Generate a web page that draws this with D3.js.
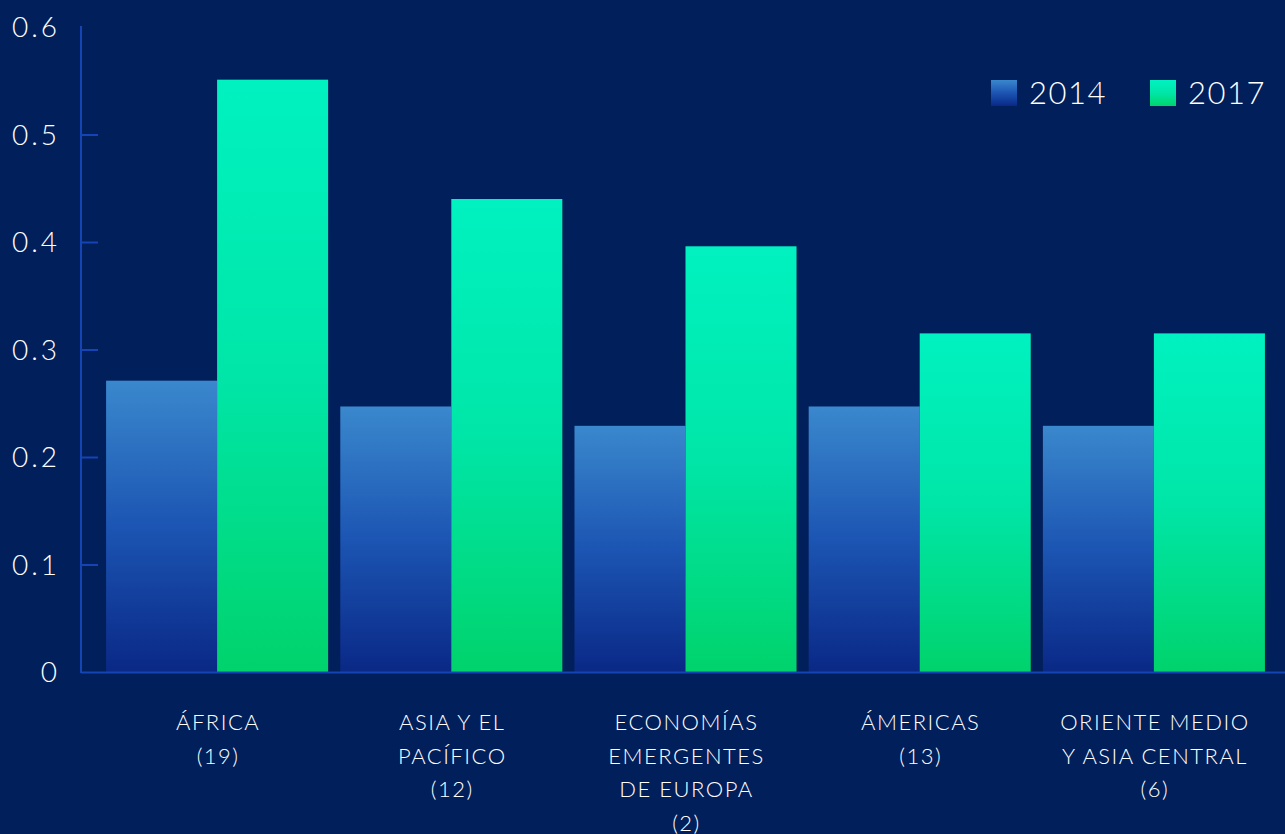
<!DOCTYPE html>
<html>
<head>
<meta charset="utf-8">
<script src="https://cdn.jsdelivr.net/npm/d3@7"></script>
<style>
  html, body { margin: 0; padding: 0; background: #011f5b; }
  svg { display: block; font-family: "Lato", "Open Sans", sans-serif; }
</style>
</head>
<body>
<svg id="chart" width="1285" height="834"></svg>
<script>
const regions = [
  ["ÁFRICA", "(19)"],
  ["ASIA Y EL", "PACÍFICO", "(12)"],
  ["ECONOMÍAS", "EMERGENTES", "DE EUROPA", "(2)"],
  ["ÁMERICAS", "(13)"],
  ["ORIENTE MEDIO", "Y ASIA CENTRAL", "(6)"]
];
const years = ["2014", "2017"];
const values2014 = [0.271, 0.247, 0.229, 0.247, 0.229];
const values2017 = [0.551, 0.44, 0.396, 0.315, 0.315];
const yTicks = [0, 0.1, 0.2, 0.3, 0.4, 0.5, 0.6];

const svg = d3.select("#chart");
const width = 1285;
const axisColor = "#1544b5";

const gradients = {
  "2014": ["#3a88cd", "#1c55b3", "#0a2886"],
  "2017": ["#00f2c0", "#00e6a8", "#00d36c"]
};

const defs = svg.append("defs");
years.forEach((yr) => {
  const g = defs.append("linearGradient")
    .attr("id", "grad" + yr)
    .attr("x1", 0).attr("y1", 0).attr("x2", 0).attr("y2", 1);
  gradients[yr].forEach((c, i, arr) => {
    g.append("stop")
      .attr("offset", (i * 100) / (arr.length - 1) + "%")
      .attr("stop-color", c);
  });
});

const y = d3.scaleLinear().domain([0, 0.6]).range([672, 27]);
const x0 = d3.scaleBand()
  .domain(d3.range(regions.length))
  .range([100, 1271])
  .paddingInner(0.052)
  .paddingOuter(0.026);
const x1 = d3.scaleBand().domain(years).range([0, x0.bandwidth()]);

// y axis
const yAxis = svg.append("g").attr("transform", "translate(81,0)")
  .call(d3.axisRight(y).tickValues(yTicks.slice(1, 6)).tickSize(17).tickFormat(""));
yAxis.select(".domain").remove();
yAxis.selectAll("line").attr("stroke", axisColor).attr("stroke-width", 2);
svg.append("line")
  .attr("x1", 81).attr("x2", 81).attr("y1", 26).attr("y2", 673)
  .attr("stroke", axisColor).attr("stroke-width", 2);

// letter-spacing adds trailing space, so anchor a bit further right
svg.append("g").selectAll("text")
  .data(yTicks)
  .join("text")
  .attr("x", 60)
  .attr("y", (d) => y(d) + 10)
  .attr("text-anchor", "end")
  .attr("fill", "#ffffff")
  .attr("font-size", 28)
  .attr("font-weight", 300)
  .attr("letter-spacing", 3)
  .text((d) => d);

// bars
const groups = svg.append("g").selectAll("g")
  .data(regions.map((r, i) => ({ i, vals: [values2014[i], values2017[i]] })))
  .join("g")
  .attr("transform", (d) => `translate(${x0(d.i)},0)`);

groups.selectAll("rect")
  .data((d) => d.vals.map((v, k) => ({ year: years[k], v })))
  .join("rect")
  .attr("x", (d) => x1(d.year))
  .attr("y", (d) => y(d.v))
  .attr("width", x1.bandwidth())
  .attr("height", (d) => y(0) - y(d.v))
  .attr("fill", (d) => `url(#grad${d.year})`);

// x axis line
svg.append("line")
  .attr("x1", 81).attr("x2", width).attr("y1", 672.5).attr("y2", 672.5)
  .attr("stroke", axisColor).attr("stroke-width", 2);

// x labels
svg.append("g").selectAll("text")
  .data(regions)
  .join("text")
  .attr("text-anchor", "middle")
  .attr("fill", "#ffffff")
  .attr("font-size", 22)
  .attr("font-weight", 300)
  .attr("letter-spacing", 1.5)
  .attr("transform", (d, i) => `translate(${x0(i) + x0.bandwidth() / 2 + 1},730)`)
  .selectAll("tspan")
  .data((d) => d)
  .join("tspan")
  .attr("x", 0)
  .attr("y", (d, k) => k * 33.5)
  .text((d) => d);

// legend
const legend = svg.append("g").selectAll("g")
  .data([{ yr: "2014", x: 991 }, { yr: "2017", x: 1150 }])
  .join("g")
  .attr("transform", (d) => `translate(${d.x},80)`);
legend.append("rect")
  .attr("width", 26).attr("height", 26)
  .attr("fill", (d) => `url(#grad${d.yr})`);
legend.append("text")
  .attr("x", 38).attr("y", 24)
  .attr("fill", "#ffffff")
  .attr("font-size", 31)
  .attr("font-weight", 300)
  .attr("letter-spacing", 1.5)
  .text((d) => d.yr);
</script>
</body>
</html>
